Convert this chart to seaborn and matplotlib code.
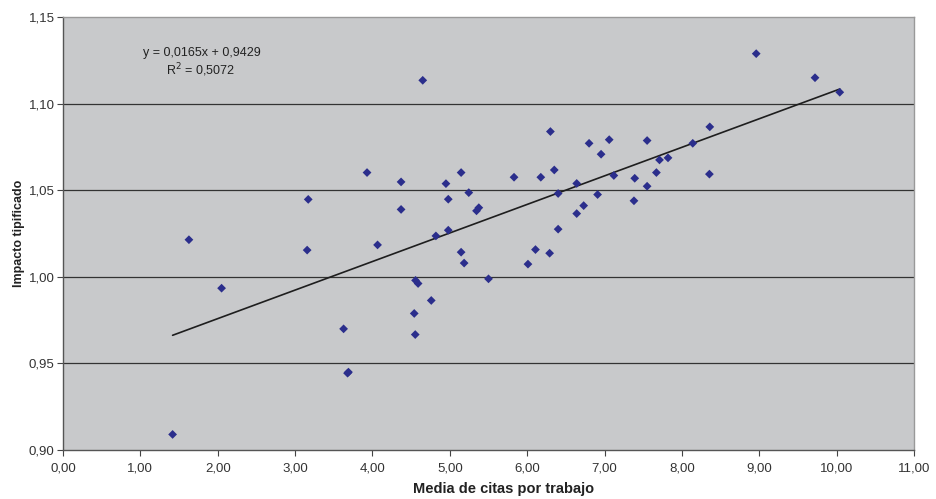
import numpy as np
import pandas as pd
import matplotlib
matplotlib.use('Agg')
import matplotlib.pyplot as plt
from matplotlib.ticker import FuncFormatter, MultipleLocator
import seaborn as sns

# data
media_citas = [1.417, 1.628, 2.05, 3.17, 3.156, 3.627, 3.678, 3.69, 3.93, 4.066,
               4.37, 4.37, 4.65, 4.557, 4.59, 4.76, 4.54, 4.553, 4.82, 4.95,
               4.98, 4.98, 5.146, 5.146, 5.185, 5.245, 5.345, 5.375, 5.50, 5.83,
               6.01, 6.107, 6.176, 6.29, 6.30, 6.35, 6.40, 6.40, 6.64, 6.64,
               6.73, 6.80, 6.91, 6.955, 7.06, 7.12, 7.38, 7.39, 7.55, 7.55,
               7.67, 7.71, 7.82, 8.14, 8.355, 8.36, 8.96, 9.72, 10.04]
impacto = [0.909, 1.0215, 0.9935, 1.0448, 1.0155, 0.970, 0.9444, 0.945, 1.0603, 1.0185,
           1.0549, 1.039, 1.1136, 0.998, 0.9962, 0.9864, 0.9789, 0.9667, 1.0237, 1.0539,
           1.0449, 1.027, 1.0603, 1.0143, 1.008, 1.0487, 1.0382, 1.040, 0.9989, 1.0576,
           1.0074, 1.0158, 1.0576, 1.0137, 1.084, 1.0618, 1.0482, 1.0276, 1.054, 1.0366,
           1.0412, 1.0772, 1.0476, 1.0709, 1.0793, 1.0586, 1.044, 1.057, 1.0788, 1.0524,
           1.0603, 1.0676, 1.0688, 1.0772, 1.0594, 1.0867, 1.129, 1.1151, 1.1067]
pendiente = 0.0165
ordenada = 0.9429
r2 = 0.5072

df = pd.DataFrame({'x': media_citas, 'y': impacto})
xs = np.array([min(media_citas), max(media_citas)])
trend = pd.DataFrame({'x': xs, 'y': pendiente * xs + ordenada})

sns.set_style('white', {'axes.facecolor': '#C8C9CB'})
plt.rcParams['font.family'] = ['Liberation Sans', 'DejaVu Sans']

fig = plt.figure(figsize=(9.37, 4.99), dpi=100)
ax = fig.add_axes([0.0672, 0.0982, 0.9083, 0.8671])

for v in [0.95, 1.00, 1.05, 1.10]:
    ax.axhline(v, color='#333333', lw=0.9, zorder=1)

sns.lineplot(data=trend, x='x', y='y', color='#1e1e1e', lw=1.2, ax=ax, zorder=2)
sns.scatterplot(data=df, x='x', y='y', marker='D', s=20, color='#2B2E8C',
                edgecolor='none', ax=ax, zorder=3)

ax.set_xlim(0, 11)
ax.set_ylim(0.90, 1.15)
ax.xaxis.set_major_locator(MultipleLocator(1))
ax.yaxis.set_major_locator(MultipleLocator(0.05))
fmt = FuncFormatter(lambda v, _: f'{v:.2f}'.replace('.', ','))
ax.xaxis.set_major_formatter(fmt)
ax.yaxis.set_major_formatter(fmt)
ax.tick_params(axis='both', direction='out', length=4, width=0.8, color='#444444',
               labelcolor='#333333', labelsize=9.5, left=True, bottom=True)
ax.tick_params(axis='y', pad=2)
ax.tick_params(axis='x', pad=5)

for s in ['left', 'bottom']:
    ax.spines[s].set_color('#555555')
    ax.spines[s].set_linewidth(1.0)
for s in ['top', 'right']:
    ax.spines[s].set_color('#999999')
    ax.spines[s].set_linewidth(1.0)

ax.set_xlabel('Media de citas por trabajo', fontsize=10.5, fontweight='bold',
              color='#222222')
ax.xaxis.set_label_coords(0.518, -0.075)
ax.set_ylabel('Impacto tipificado', fontsize=9, fontweight='bold',
              color='#222222')
ax.yaxis.set_label_coords(-0.045, 0.5)

ax.text(1.80, 1.1294, f'y = {pendiente:.4f}x + {ordenada:.4f}'.replace('.', ','),
        ha='center', va='center', fontsize=9, color='#222222')
ax.text(1.78, 1.1196, f'R$^2$ = {r2:.4f}'.replace('.', ','),
        ha='center', va='center', fontsize=9, color='#222222')

fig.savefig('out.png', dpi=100)
